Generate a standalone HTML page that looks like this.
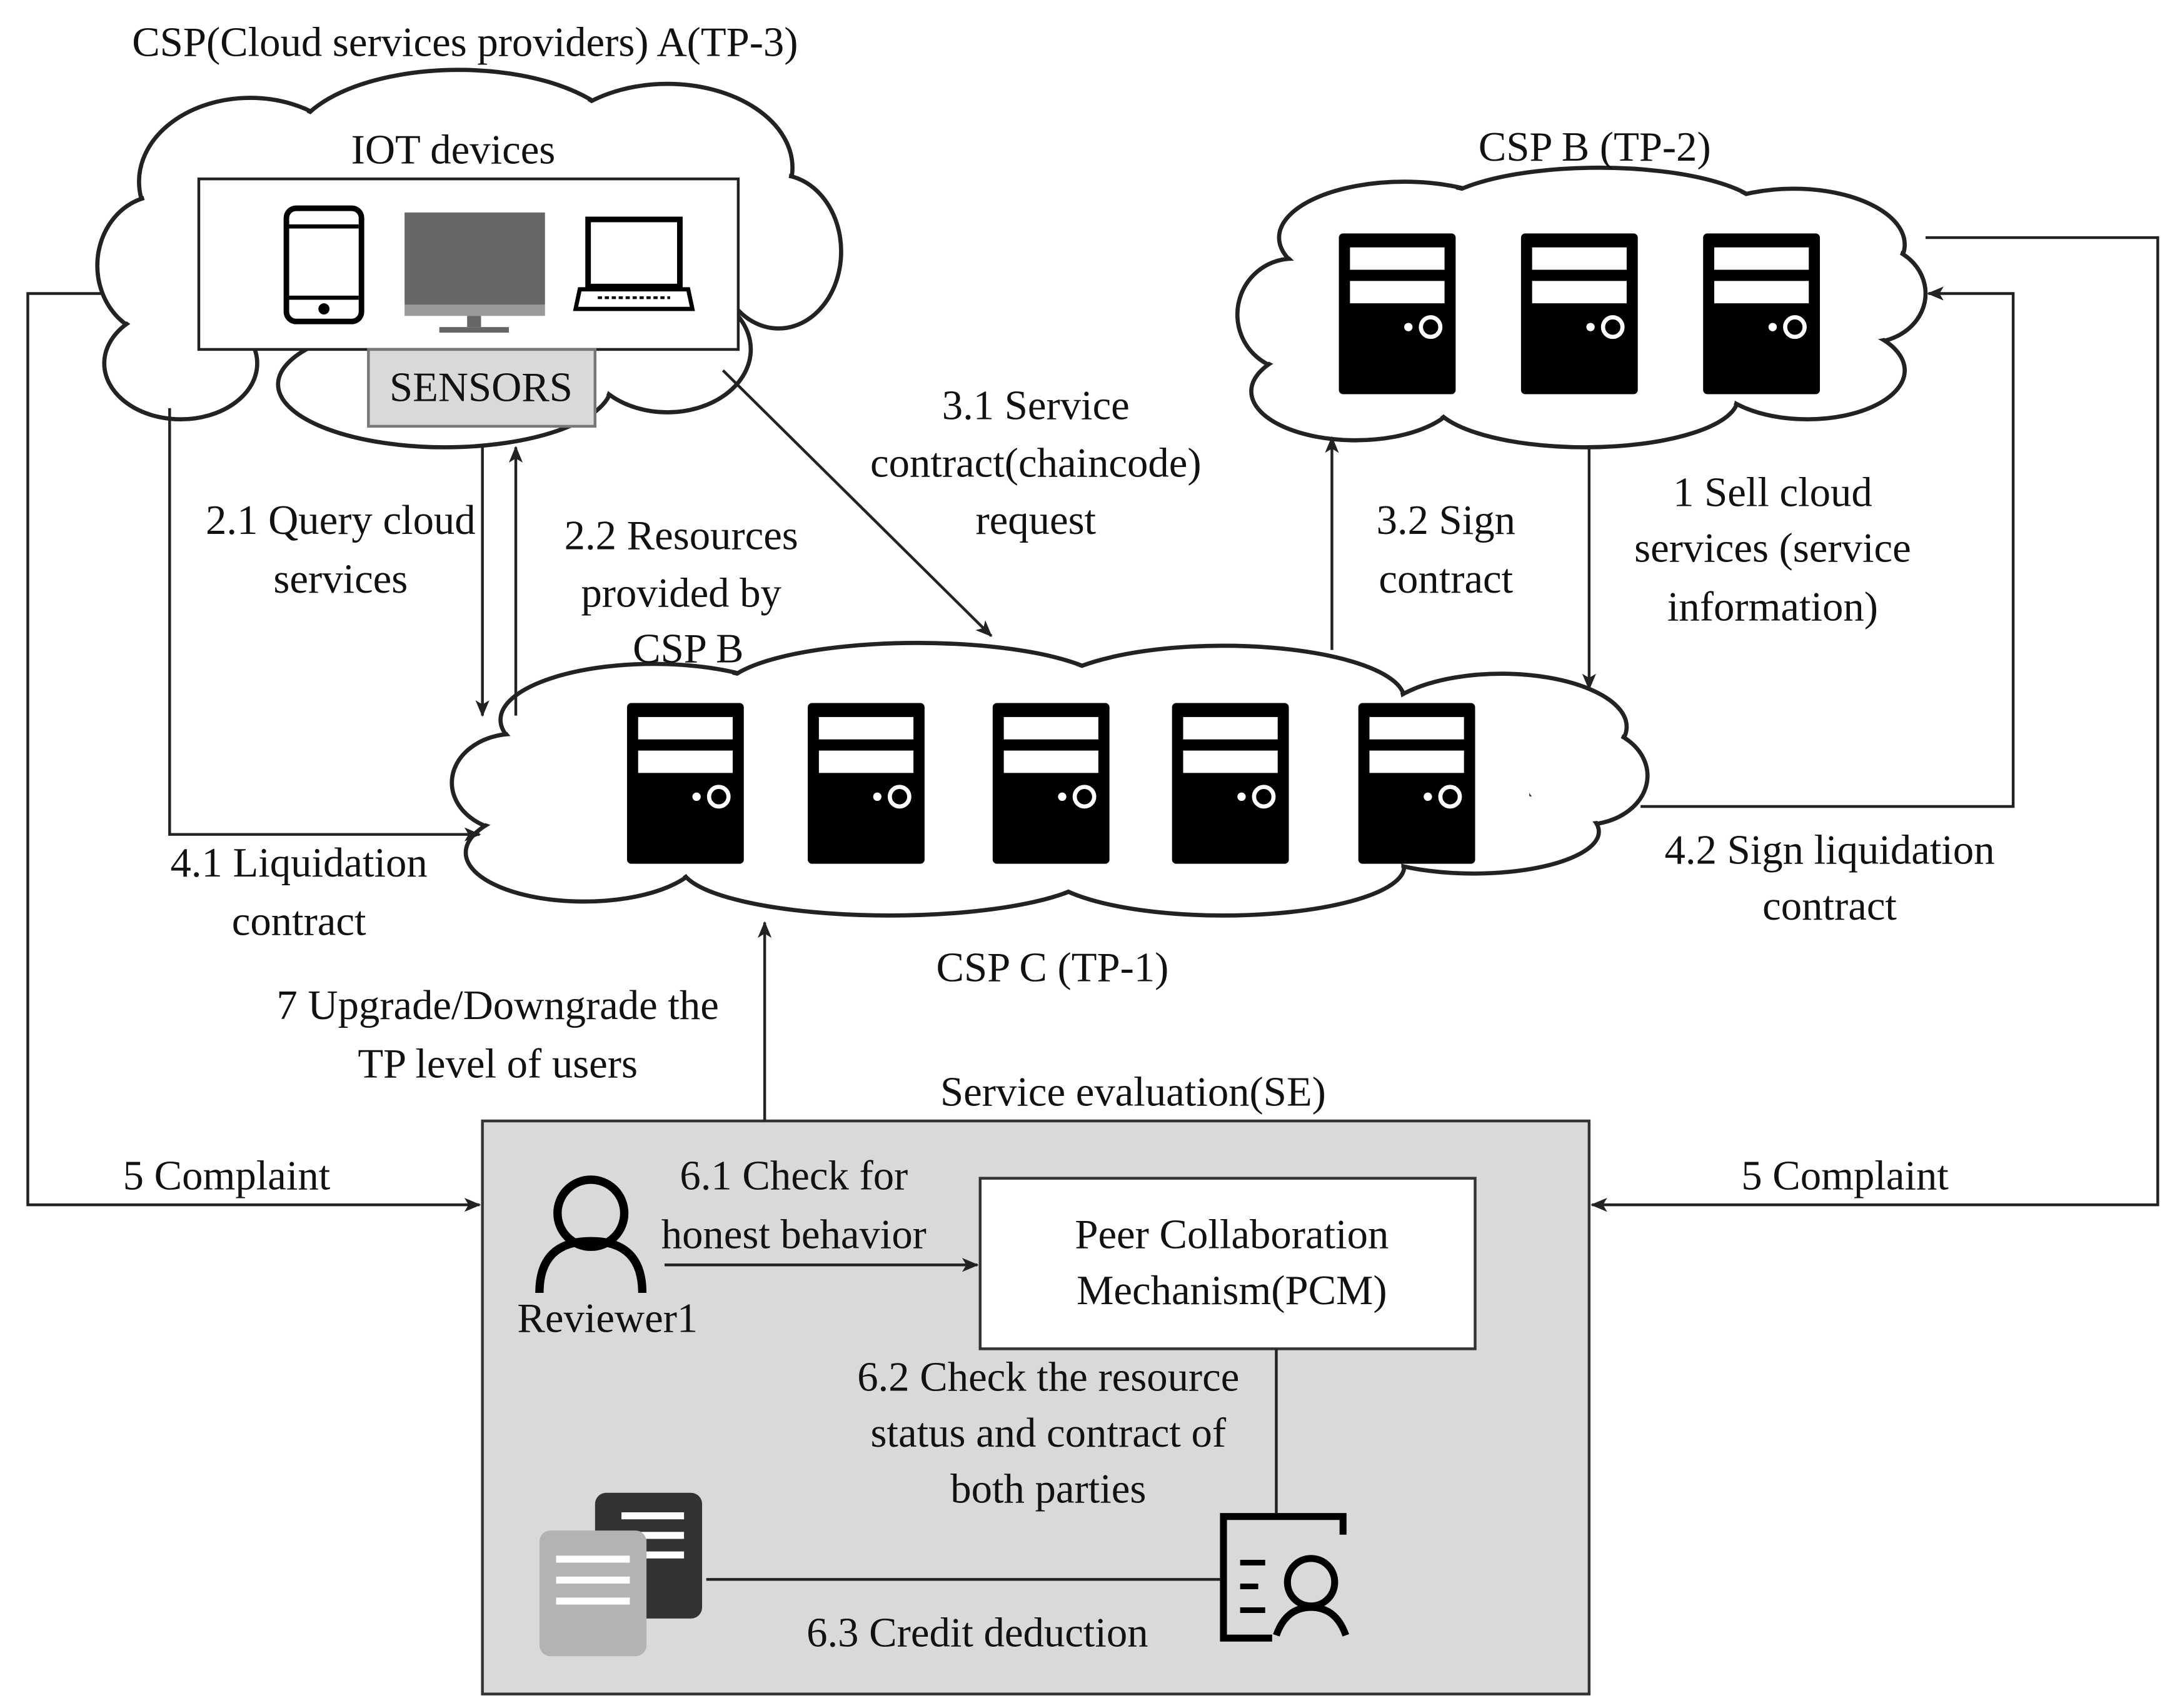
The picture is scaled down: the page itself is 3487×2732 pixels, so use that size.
<!DOCTYPE html>
<html><head><meta charset="utf-8"><style>
html,body{margin:0;padding:0;background:#fff;}
svg{display:block;}
svg text{font-family:"Liberation Serif","Times New Roman",serif;font-size:30px;fill:#111;}
</style></head><body>
<svg width="3487" height="2732" viewBox="0 0 1568 1222" preserveAspectRatio="none" xmlns="http://www.w3.org/2000/svg" font-family="Liberation Serif, serif" font-size="30">
<defs>
<marker id="ah" markerWidth="12" markerHeight="10" refX="11" refY="5" orient="auto" markerUnits="userSpaceOnUse">
<path d="M0,0 L12,5 L0,10 L3,5 Z" fill="#222"/></marker>
<g id="srv">
<rect x="0" y="0" width="84" height="115" rx="3" fill="#000"/>
<rect x="8" y="10" width="68" height="16" fill="#fff"/>
<rect x="8" y="34" width="68" height="16" fill="#fff"/>
<circle cx="50" cy="67" r="3" fill="#fff"/>
<circle cx="66" cy="67" r="7" fill="none" stroke="#fff" stroke-width="3"/>
</g>
</defs>
<rect width="1568" height="1222" fill="#fff"/>

<!-- Cloud A -->
<g stroke="#222" stroke-width="3" fill="#fff">
<ellipse cx="180" cy="130" rx="80" ry="60"/>
<ellipse cx="330" cy="105" rx="120" ry="55"/>
<ellipse cx="480" cy="120" rx="90" ry="60"/>
<ellipse cx="560" cy="180" rx="45" ry="55"/>
<ellipse cx="115" cy="190" rx="45" ry="50"/>
<ellipse cx="130" cy="260" rx="55" ry="40"/>
<ellipse cx="320" cy="275" rx="120" ry="45"/>
<ellipse cx="480" cy="250" rx="60" ry="45"/>
</g>
<g fill="#fff">
<ellipse cx="180" cy="130" rx="78" ry="58"/>
<ellipse cx="330" cy="105" rx="118" ry="53"/>
<ellipse cx="480" cy="120" rx="88" ry="58"/>
<ellipse cx="560" cy="180" rx="43" ry="53"/>
<ellipse cx="115" cy="190" rx="43" ry="48"/>
<ellipse cx="130" cy="260" rx="53" ry="38"/>
<ellipse cx="320" cy="275" rx="118" ry="43"/>
<ellipse cx="480" cy="250" rx="58" ry="43"/>
<rect x="150" y="110" width="355" height="140"/>
</g>

<!-- Cloud B -->
<g stroke="#222" stroke-width="3" fill="#fff">
<ellipse cx="1010" cy="170" rx="90" ry="40"/>
<ellipse cx="1150" cy="155" rx="120" ry="35"/>
<ellipse cx="1290" cy="175" rx="80" ry="40"/>
<ellipse cx="1345" cy="210" rx="40" ry="35"/>
<ellipse cx="930" cy="225" rx="40" ry="40"/>
<ellipse cx="975" cy="280" rx="75" ry="35"/>
<ellipse cx="1140" cy="285" rx="110" ry="35"/>
<ellipse cx="1300" cy="265" rx="70" ry="35"/>
</g>
<g fill="#fff">
<ellipse cx="1010" cy="170" rx="88" ry="38"/>
<ellipse cx="1150" cy="155" rx="118" ry="33"/>
<ellipse cx="1290" cy="175" rx="78" ry="38"/>
<ellipse cx="1345" cy="210" rx="38" ry="33"/>
<ellipse cx="930" cy="225" rx="38" ry="38"/>
<ellipse cx="975" cy="280" rx="73" ry="33"/>
<ellipse cx="1140" cy="285" rx="108" ry="33"/>
<ellipse cx="1300" cy="265" rx="68" ry="33"/>
<rect x="960" y="170" width="360" height="110"/>
</g>

<!-- Cloud C -->
<g stroke="#222" stroke-width="3" fill="#fff">
<ellipse cx="470" cy="515" rx="110" ry="40"/>
<ellipse cx="660" cy="495" rx="140" ry="35"/>
<ellipse cx="880" cy="500" rx="130" ry="38"/>
<ellipse cx="1080" cy="520" rx="90" ry="38"/>
<ellipse cx="1140" cy="555" rx="45" ry="35"/>
<ellipse cx="370" cy="560" rx="45" ry="35"/>
<ellipse cx="420" cy="610" rx="85" ry="35"/>
<ellipse cx="640" cy="620" rx="150" ry="35"/>
<ellipse cx="880" cy="620" rx="130" ry="35"/>
<ellipse cx="1060" cy="595" rx="90" ry="30"/>
</g>
<g fill="#fff">
<ellipse cx="470" cy="515" rx="108" ry="38"/>
<ellipse cx="660" cy="495" rx="138" ry="33"/>
<ellipse cx="880" cy="500" rx="128" ry="36"/>
<ellipse cx="1080" cy="520" rx="88" ry="36"/>
<ellipse cx="1140" cy="555" rx="43" ry="33"/>
<ellipse cx="370" cy="560" rx="43" ry="33"/>
<ellipse cx="420" cy="610" rx="83" ry="33"/>
<ellipse cx="640" cy="620" rx="148" ry="33"/>
<ellipse cx="880" cy="620" rx="128" ry="33"/>
<ellipse cx="1060" cy="595" rx="88" ry="28"/>
<rect x="400" y="515" width="700" height="85"/>
</g>

<!-- Servers -->
<use href="#srv" x="963" y="167"/>
<use href="#srv" x="1094" y="167"/>
<use href="#srv" x="1225" y="167"/>
<use href="#srv" x="451" y="503"/>
<use href="#srv" x="581" y="503"/>
<use href="#srv" x="714" y="503"/>
<use href="#srv" x="843" y="503"/>
<use href="#srv" x="977" y="503"/>

<!-- IOT box -->
<rect x="143" y="128" width="388" height="122" fill="#fff" stroke="#222" stroke-width="2"/>
<rect x="206" y="149" width="54" height="81" rx="7" fill="#fff" stroke="#000" stroke-width="4"/>
<line x1="208" y1="162" x2="258" y2="162" stroke="#000" stroke-width="3"/>
<line x1="208" y1="213" x2="258" y2="213" stroke="#000" stroke-width="3"/>
<circle cx="233" cy="221" r="4" fill="#000"/>
<rect x="291" y="152" width="101" height="66" fill="#666"/>
<rect x="291" y="218" width="101" height="8" fill="#999"/>
<rect x="336" y="226" width="10" height="8" fill="#666"/>
<rect x="316" y="234" width="50" height="4" fill="#666"/>
<rect x="423" y="157" width="66" height="48" fill="#fff" stroke="#000" stroke-width="4"/>
<path d="M417,207 L495,207 L498,221 L414,221 Z" fill="#fff" stroke="#000" stroke-width="3"/>
<line x1="430" y1="213" x2="482" y2="213" stroke="#000" stroke-width="2" stroke-dasharray="3,2"/>
<rect x="265" y="250" width="163" height="55" fill="#d9d9d9" stroke="#777" stroke-width="2"/>
<text x="346" y="287" text-anchor="middle">SENSORS</text>

<!-- SE box -->
<rect x="347" y="802" width="796" height="410" fill="#d9d9d9" stroke="#333" stroke-width="2"/>
<rect x="705" y="843" width="356" height="122" fill="#fff" stroke="#333" stroke-width="2"/>
<text x="886" y="893" text-anchor="middle">Peer Collaboration</text>
<text x="886" y="933" text-anchor="middle">Mechanism(PCM)</text>
<circle cx="425" cy="868" r="24" fill="none" stroke="#000" stroke-width="6"/>
<path d="M388,925 Q388,888 425,888 Q462,888 462,925" fill="none" stroke="#000" stroke-width="6"/>
<text x="437" y="953" text-anchor="middle">Reviewer1</text>
<!-- docs -->
<rect x="428" y="1068" width="77" height="90" rx="8" fill="#333"/>
<rect x="447" y="1082" width="45" height="5" fill="#fff"/>
<rect x="447" y="1096" width="45" height="5" fill="#fff"/>
<rect x="447" y="1110" width="45" height="5" fill="#fff"/>
<rect x="388" y="1095" width="77" height="90" rx="8" fill="#b3b3b3"/>
<rect x="400" y="1113" width="53" height="5" fill="#fff"/>
<rect x="400" y="1128" width="53" height="5" fill="#fff"/>
<rect x="400" y="1143" width="53" height="5" fill="#fff"/>
<!-- reviewer doc icon -->
<path d="M966,1098 L966,1085 L880,1085 L880,1172 L915,1172" fill="none" stroke="#000" stroke-width="5"/>
<line x1="892" y1="1118" x2="910" y2="1118" stroke="#000" stroke-width="4"/>
<line x1="892" y1="1135" x2="905" y2="1135" stroke="#000" stroke-width="4"/>
<line x1="892" y1="1152" x2="910" y2="1152" stroke="#000" stroke-width="4"/>
<circle cx="943" cy="1132" r="17" fill="none" stroke="#000" stroke-width="5"/>
<path d="M918,1170 Q925,1150 943,1150 Q961,1150 968,1170" fill="none" stroke="#000" stroke-width="5"/>

<!-- connectors -->
<g stroke="#222" stroke-width="2" fill="none">
<polyline points="75,210 20,210 20,862 345,862" marker-end="url(#ah)"/>
<polyline points="1385,170 1552,170 1552,862 1145,862" marker-end="url(#ah)"/>
<line x1="347" y1="320" x2="347" y2="512" marker-end="url(#ah)"/>
<line x1="371" y1="512" x2="371" y2="320" marker-end="url(#ah)"/>
<polyline points="122,292 122,597 345,597" marker-end="url(#ah)"/>
<line x1="520" y1="265" x2="713" y2="455" marker-end="url(#ah)"/>
<line x1="958" y1="465" x2="958" y2="313" marker-end="url(#ah)"/>
<line x1="1143" y1="320" x2="1143" y2="493" marker-end="url(#ah)"/>
<polyline points="1180,577 1448,577 1448,210 1387,210" marker-end="url(#ah)"/>
<line x1="550" y1="802" x2="550" y2="660" marker-end="url(#ah)"/>
<line x1="478" y1="905" x2="703" y2="905" marker-end="url(#ah)"/>
<line x1="918" y1="965" x2="918" y2="1083"/>
<line x1="508" y1="1130" x2="878" y2="1130"/>
</g>

<!-- labels -->
<text x="95" y="40">CSP(Cloud services providers) A(TP-3)</text>
<text x="326" y="117" text-anchor="middle">IOT devices</text>
<text x="1147" y="115" text-anchor="middle">CSP B (TP-2)</text>
<text x="245" y="382" text-anchor="middle">2.1 Query cloud</text>
<text x="245" y="424" text-anchor="middle">services</text>
<text x="490" y="393" text-anchor="middle">2.2 Resources</text>
<text x="490" y="434" text-anchor="middle">provided by</text>
<text x="495" y="474" text-anchor="middle">CSP B</text>
<text x="745" y="300" text-anchor="middle">3.1 Service</text>
<text x="745" y="341" text-anchor="middle">contract(chaincode)</text>
<text x="745" y="382" text-anchor="middle">request</text>
<text x="1040" y="382" text-anchor="middle">3.2 Sign</text>
<text x="1040" y="424" text-anchor="middle">contract</text>
<text x="1275" y="362" text-anchor="middle">1 Sell cloud</text>
<text x="1275" y="402" text-anchor="middle">services (service</text>
<text x="1275" y="444" text-anchor="middle">information)</text>
<text x="215" y="627" text-anchor="middle">4.1 Liquidation</text>
<text x="215" y="669" text-anchor="middle">contract</text>
<text x="1316" y="618" text-anchor="middle">4.2 Sign liquidation</text>
<text x="1316" y="658" text-anchor="middle">contract</text>
<text x="757" y="702" text-anchor="middle">CSP C (TP-1)</text>
<text x="358" y="729" text-anchor="middle">7 Upgrade/Downgrade the</text>
<text x="358" y="771" text-anchor="middle">TP level of users</text>
<text x="815" y="791" text-anchor="middle">Service evaluation(SE)</text>
<text x="163" y="851" text-anchor="middle">5 Complaint</text>
<text x="1327" y="851" text-anchor="middle">5 Complaint</text>
<text x="571" y="851" text-anchor="middle">6.1 Check for</text>
<text x="571" y="893" text-anchor="middle">honest behavior</text>
<text x="754" y="995" text-anchor="middle">6.2 Check the resource</text>
<text x="754" y="1035" text-anchor="middle">status and contract of</text>
<text x="754" y="1075" text-anchor="middle">both parties</text>
<text x="703" y="1178" text-anchor="middle">6.3 Credit deduction</text>
</svg>
</body></html>
